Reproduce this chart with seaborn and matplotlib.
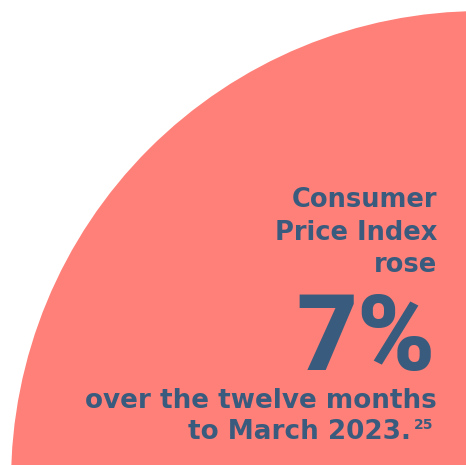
import matplotlib
matplotlib.use("Agg")
import matplotlib.pyplot as plt
import seaborn as sns
from matplotlib.patches import Circle

sns.set_theme(style="white")
plt.rcParams['font.family'] = ['DejaVu Sans']

# content
headline_lines = ["Consumer", "Price Index", "rose"]
big_value = "7%"
footer_lines = ["over the twelve months", "to March 2023."]
footnote = "25"

BG = "#FF8078"
INK = "#395C7E"

fig = plt.figure(figsize=(4.66, 4.65), dpi=100)
ax = fig.add_axes([0, 0, 1, 1])
ax.set_xlim(0, 466)
ax.set_ylim(465, 0)
ax.axis("off")

ax.add_patch(Circle((482, 482), 471, color=BG, lw=0))

renderer = fig.canvas.get_renderer()


def fit(t, width):
    bb = t.get_window_extent(renderer)
    t.set_fontsize(t.get_fontsize() * width / bb.width)


kw = dict(ha="right", va="baseline", fontweight="bold", color=INK)
heads = []
for txt, y in zip(headline_lines, [207, 240, 272]):
    heads.append(ax.text(437, y, txt, fontsize=19, **kw))
fit(heads[1], 162)
for h in heads:
    h.set_fontsize(heads[1].get_fontsize())

big = ax.text(436, 370, big_value, ha="right", va="baseline", fontsize=76,
              fontweight=900, color=INK, family=["Roboto", "DejaVu Sans"])

f1 = ax.text(437, 408, footer_lines[0], fontsize=19, **kw)
fit(f1, 352)
f2 = ax.text(411, 439, footer_lines[1], fontsize=f1.get_fontsize(), **kw)
ax.text(414, 429, footnote, ha="left", va="baseline", fontsize=10,
        fontweight="bold", color=INK)

fig.savefig("out.png", dpi=100)
